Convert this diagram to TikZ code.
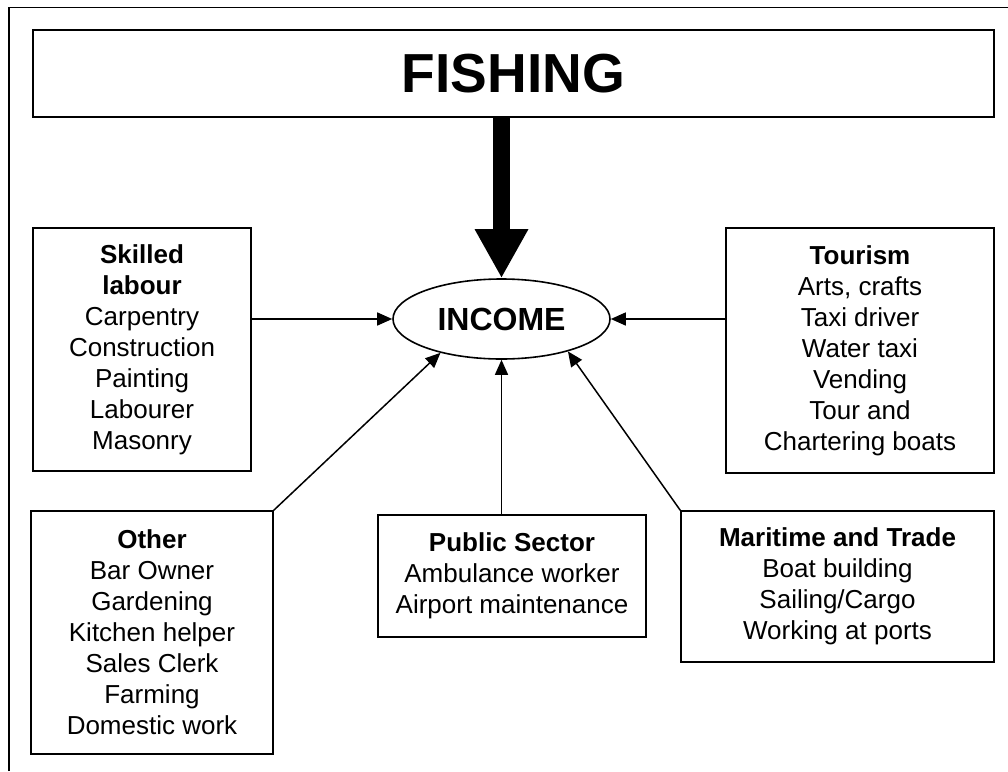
\documentclass[tikz,border=0pt]{standalone}
\usepackage{fontspec}
\setmainfont{Liberation Sans}
\usetikzlibrary{arrows.meta,shapes.geometric}
\tikzset{
  txt/.style={font={\fontsize{26}{31}\selectfont}},
  box/.style={draw, line width=1.6pt, inner sep=0pt, align=center, txt},
  con/.style={line width=1.5pt, -{Triangle[length=15pt,width=13pt]}}
}
\begin{document}
\begin{tikzpicture}[x=1pt,y=-1pt]
\useasboundingbox (0,0) rectangle (1008,771);
% outer frame (top and left only)
\draw[line width=1.6pt] (9,771) -- (9,7.3) -- (1008,7.3);
% nodes
\node[draw, line width=1.9pt, minimum width=961pt, minimum height=87pt, inner sep=0pt,
      font={\fontsize{55}{60}\selectfont\bfseries}] (fishing) at (513.5,73.5) {FISHING};
\node[draw, ellipse, line width=1.6pt, minimum width=217pt, minimum height=80pt, inner sep=0pt,
      font={\fontsize{32}{36}\selectfont\bfseries}] (income) at (501.5,319) {INCOME};
\node[box, minimum width=218pt, minimum height=243pt] (skilled) at (142,349.5)
  {\textbf{Skilled}\\\textbf{labour}\\Carpentry\\Construction\\Painting\\Labourer\\Masonry};
\node[box, minimum width=268pt, minimum height=245pt] (tourism) at (860,350.5)
  {\textbf{Tourism}\\Arts, crafts\\Taxi driver\\Water taxi\\Vending\\Tour and\\Chartering boats};
\node[box, minimum width=242pt, minimum height=243pt] (other) at (152,632.5)
  {\textbf{Other}\\Bar Owner\\Gardening\\Kitchen helper\\Sales Clerk\\Farming\\Domestic work};
\node[box, minimum width=268pt, minimum height=122pt] (public) at (512,576)
  {\textbf{Public Sector}\\Ambulance worker\\Airport maintenance};
\node[box, minimum width=313pt, minimum height=151pt] (maritime) at (837.5,586.5)
  {\textbf{Maritime and Trade}\\Boat building\\Sailing/Cargo\\Working at ports};
% connectors
\draw[line width=17pt, -{Triangle[length=49pt,width=50pt]}] (fishing.south -| income.north) -- (income.north);
\draw[con] (skilled.east |- income.west) -- (income.west);
\draw[con] (tourism.west |- income.east) -- (income.east);
\draw[con] (income.south |- public.north) -- (income.south);
\draw[con] (other.north east) -- (income.209);
\draw[con] (maritime.north west) -- (income.334);
\end{tikzpicture}
\end{document}
